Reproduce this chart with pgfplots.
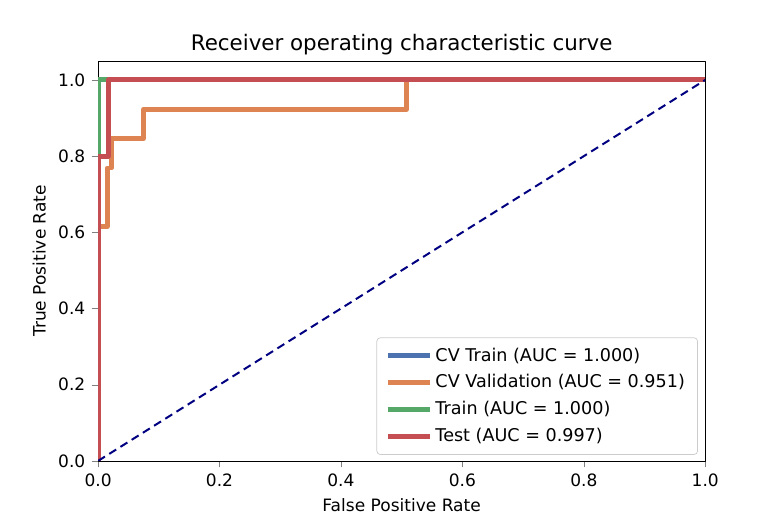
\documentclass[border=0pt]{standalone}
\usepackage{fontspec}
\setmainfont{DejaVu Sans}
\usepackage{pgfplots}
\pgfplotsset{compat=1.18}
\definecolor{cvtrain}{HTML}{4C72B0}
\definecolor{cvval}{HTML}{DD8452}
\definecolor{train}{HTML}{55A868}
\definecolor{test}{HTML}{C44E52}
\begin{document}
\begin{tikzpicture}
\path (-54.1pt,-32pt) rectangle (377.9pt,254.3pt);
\begin{axis}[
    at={(0,0)}, anchor=south west,
    scale only axis,
    width=335pt, height=220.7pt,
    xmin=0, xmax=1, ymin=0, ymax=1.05,
    xtick={0,0.2,0.4,0.6,0.8,1.0},
    ytick={0,0.2,0.4,0.6,0.8,1.0},
    xticklabel style={/pgf/number format/fixed, /pgf/number format/fixed zerofill, /pgf/number format/precision=1},
    yticklabel style={/pgf/number format/fixed, /pgf/number format/fixed zerofill, /pgf/number format/precision=1},
    /pgf/number format/assume math mode=true,
    tick align=outside, xtick pos=left, ytick pos=left,
    major tick length=3.5pt,
    ticklabel style={font=\fontsize{9.4}{11}\selectfont},
    title={Receiver operating characteristic curve},
    title style={font=\fontsize{11.8}{14}\selectfont, yshift=-6pt},
    xlabel={False Positive Rate},
    ylabel={True Positive Rate},
    label style={font=\fontsize{9.4}{11}\selectfont},
    legend style={at={(0.988,0.015)}, anchor=south east, draw=black!20, rounded corners=2pt,
        font=\fontsize{9.7}{11}\selectfont, row sep=2pt, inner xsep=5pt, inner ysep=3.5pt},
    legend cell align=left,
    legend image code/.code={\draw[#1, line width=2.6pt] (0cm,0cm) -- (0.8cm,0cm);},
    line join=round,
]
\addplot[cvtrain, line width=2.7pt] coordinates {(0,0)(0,1)(1,1)};
\addlegendentry{CV Train (AUC = 1.000)}
\addplot[cvval, line width=2.7pt] coordinates {
    (0,0)(0,0.615)(0.015,0.615)(0.015,0.769)(0.022,0.769)(0.022,0.846)
    (0.075,0.846)(0.075,0.923)(0.508,0.923)(0.508,1)(1,1)};
\addlegendentry{CV Validation (AUC = 0.951)}
\addplot[train, line width=2.7pt] coordinates {(0,0)(0,1)(1,1)};
\addlegendentry{Train (AUC = 1.000)}
\addplot[test, line width=2.7pt] coordinates {(0,0)(0,0.8)(0.017,0.8)(0.017,1)(1,1)};
\addlegendentry{Test (AUC = 0.997)}
\addplot[color={rgb,255:red,0;green,0;blue,128}, dash pattern=on 4.5pt off 2.8pt, line width=1.1pt, forget plot] coordinates {(0,0)(1,1)};
\end{axis}
\end{tikzpicture}
\end{document}
